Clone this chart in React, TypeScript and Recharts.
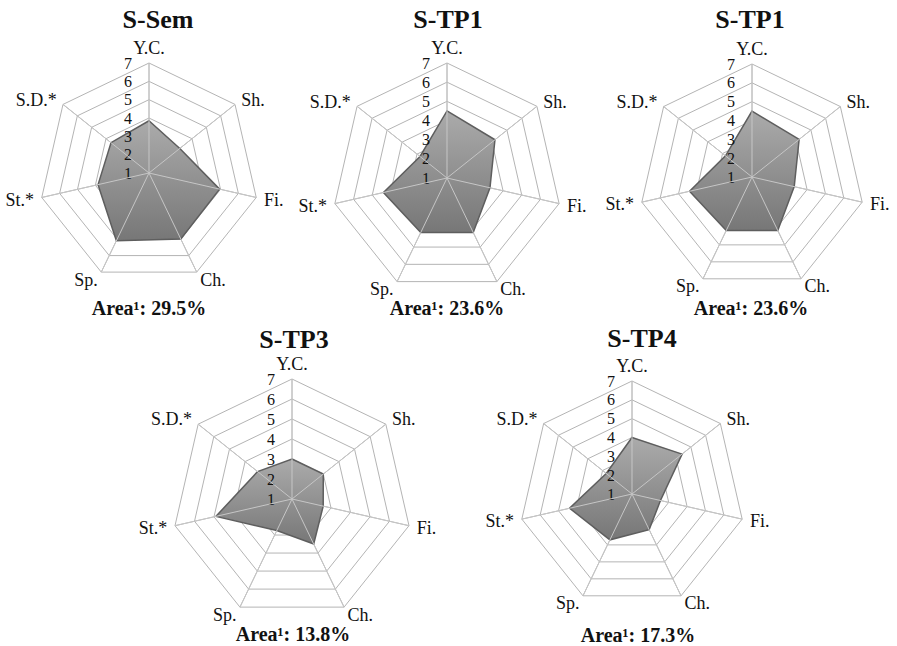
import { RadarChart, Radar, PolarGrid, PolarAngleAxis, PolarRadiusAxis } from "recharts";

// attribute axes, clockwise from the top
const categories = ["Y.C.", "Sh.", "Fi.", "Ch.", "Sp.", "St.*", "S.D.*"];

// scores per panel (scale 1..7)
const sSem = [3.85, 3.15, 4.95, 5.0, 5.1, 3.85, 3.65];
const sTp1 = [4.5, 4.2, 3.3, 4.15, 4.15, 4.4, 2.8];
const sTp3 = [3.0, 3.0, 2.6, 3.5, 2.75, 4.9, 3.2];
const sTp4 = [4.0, 4.4, 2.55, 3.1, 3.7, 4.4, 2.75];

const titles = ["S-Sem", "S-TP1", "S-TP1", "S-TP3", "S-TP4"];
const areas = ["29.5%", "23.6%", "23.6%", "13.8%", "17.3%"];
const series = [sSem, sTp1, sTp1, sTp3, sTp4];

// panel placement on the page
const layout = [
  { cx: 149, cy: 173, r: 110, titleX: 158, titleY: 28, areaX: 149, areaY: 315 },
  { cx: 447, cy: 178, r: 115, titleX: 448, titleY: 28, areaX: 447, areaY: 315 },
  { cx: 752, cy: 177, r: 113, titleX: 750, titleY: 28, areaX: 751, areaY: 315 },
  { cx: 292, cy: 499, r: 120, titleX: 294, titleY: 348, areaX: 293, areaY: 641 },
  { cx: 632, cy: 494, r: 113, titleX: 642, titleY: 347, areaX: 638, areaY: 642 },
];

const W = 897;
const H = 646;
const serif = { fontFamily: '"Liberation Serif", serif' };

const AngleTick = (props: any) => {
  const { x, y, payload, textAnchor } = props;
  const top = textAnchor === "middle";
  return (
    <text
      x={x}
      y={top ? y - 1 : y}
      dy={top ? 0 : "0.35em"}
      textAnchor={textAnchor}
      style={serif}
      fontSize={18}
      fill="#111"
    >
      {payload.value}
    </text>
  );
};

const RadiusTick = (props: any) => {
  const { x, y, payload } = props;
  return (
    <text x={x - 17} y={y} dy="0.35em" textAnchor="end" style={serif} fontSize={16} fill="#111">
      {payload.value}
    </text>
  );
};

function Panel({ idx }: { idx: number }) {
  const l = layout[idx];
  const data = categories.map((c, i) => ({ c, v: series[idx][i] }));
  const gid = `fill${idx}`;
  const common = {
    width: W,
    height: H,
    data,
    cx: l.cx,
    cy: l.cy,
    outerRadius: l.r,
    margin: { top: 0, right: 0, bottom: 0, left: 0 },
  };
  return (
    <>
      <div style={{ position: "absolute", left: 0, top: 0 }}>
        <RadarChart {...common}>
          <defs>
            <linearGradient id={gid} x1="0" y1="0" x2="0" y2="1">
              <stop offset="0%" stopColor="#ababab" />
              <stop offset="100%" stopColor="#777777" />
            </linearGradient>
          </defs>
          <PolarGrid gridType="polygon" stroke="#b4b4b4" strokeWidth={1} />
          <PolarAngleAxis dataKey="c" tick={<AngleTick />} tickLine={false} axisLine={false} />
          <PolarRadiusAxis
            angle={90}
            type="number"
            domain={[1, 7]}
            tickCount={7}
            axisLine={false}
            tickLine={false}
            tick={<RadiusTick />}
          />
          <Radar
            dataKey="v"
            stroke="#5e5e5e"
            strokeWidth={1.5}
            fill={`url(#${gid})`}
            fillOpacity={1}
            isAnimationActive={false}
          />
        </RadarChart>
      </div>
      {/* light spokes drawn over the filled area */}
      <div style={{ position: "absolute", left: 0, top: 0 }}>
        <RadarChart {...common}>
          <PolarGrid gridType="polygon" polarRadius={[0]} stroke="#c6c6c6" strokeWidth={1} />
          <PolarAngleAxis dataKey="c" tick={false} tickLine={false} axisLine={false} />
        </RadarChart>
      </div>
    </>
  );
}

export default function App() {
  return (
    <div style={{ position: "absolute", left: 0, top: 0, width: W, height: H, background: "#fff" }}>
      {titles.map((_, i) => (
        <Panel key={i} idx={i} />
      ))}
      <svg width={W} height={H} style={{ position: "absolute", left: 0, top: 0, pointerEvents: "none" }}>
        {titles.map((t, i) => (
          <text
            key={"t" + i}
            x={layout[i].titleX}
            y={layout[i].titleY}
            textAnchor="middle"
            style={{ ...serif, fontWeight: 700, fontSize: 26 }}
            fill="#111"
          >
            {t}
          </text>
        ))}
        {areas.map((a, i) => (
          <text
            key={"a" + i}
            x={layout[i].areaX}
            y={layout[i].areaY}
            textAnchor="middle"
            style={{ ...serif, fontWeight: 700, fontSize: 20 }}
            fill="#111"
          >
            {"Area¹: " + a}
          </text>
        ))}
      </svg>
    </div>
  );
}
